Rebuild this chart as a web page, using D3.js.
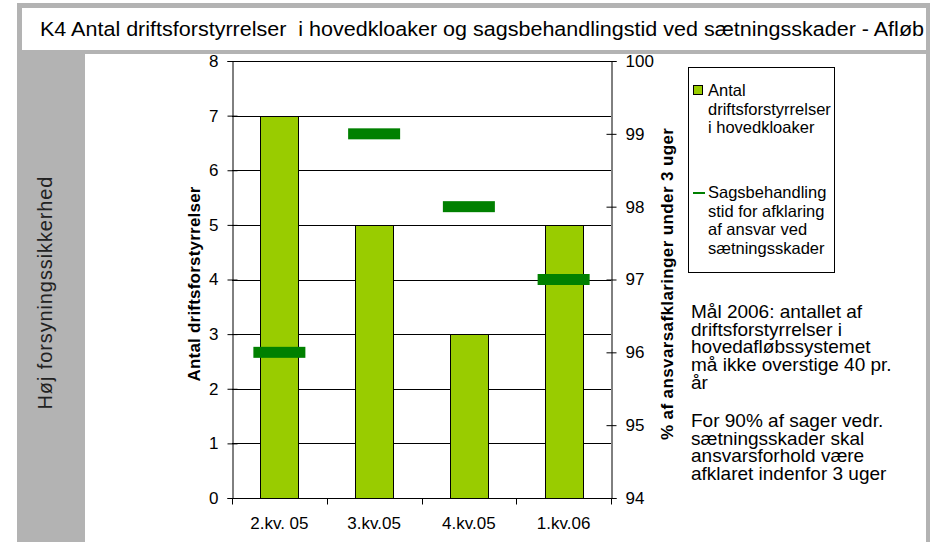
<!DOCTYPE html>
<html>
<head>
<meta charset="utf-8">
<script src="https://cdn.jsdelivr.net/npm/d3@7"></script>
<style>
  body { margin: 0; background: #fff; }
  svg { display: block; font-family: "Liberation Sans", Arial, sans-serif; }
  .tick text { font-size: 17px; fill: #000; font-family: "Liberation Sans", Arial, sans-serif; }
</style>
</head>
<body>
<div id="chart"></div>
<script>
var categories = ["2.kv. 05", "3.kv.05", "4.kv.05", "1.kv.06"];
var driftsforstyrrelser = [7, 5, 3, 5];
var sagsbehandling = [96, 99, 98, 97];
var leftTicks = [0, 1, 2, 3, 4, 5, 6, 7, 8];
var rightTicks = [94, 95, 96, 97, 98, 99, 100];

var titleText = "K4 Antal driftsforstyrrelser  i hovedkloaker og sagsbehandlingstid ved sætningsskader - Afløb";
var sideText = "Høj forsyningssikkerhed";
var legendBar = ["Antal", "driftsforstyrrelser", "i hovedkloaker"];
var legendLine = ["Sagsbehandling", "stid for afklaring", "af ansvar ved", "sætningsskader"];
var note1 = ["Mål 2006: antallet af", "driftsforstyrrelser i", "hovedafløbssystemet", "må ikke overstige 40 pr.", "år"];
var note2 = ["For 90% af sager vedr.", "sætningsskader skal", "ansvarsforhold være", "afklaret indenfor 3 uger"];

var W = 930, H = 542;
var plot = {left: 232, right: 611, top: 61, bottom: 498};

var svg = d3.select("#chart").append("svg")
    .attr("width", W)
    .attr("height", H);

// frame
svg.append("rect").attr("x", 17).attr("y", 3).attr("width", W - 17).attr("height", H - 3).attr("fill", "#b3b3b3");
svg.append("rect").attr("x", 22).attr("y", 8).attr("width", 904).attr("height", 42).attr("fill", "#fff");
svg.append("rect").attr("x", 85).attr("y", 54).attr("width", 841).attr("height", H - 54).attr("fill", "#fff");

svg.append("text")
    .attr("x", 40).attr("y", 36)
    .attr("font-size", 20.5)
    .attr("textLength", 884)
    .attr("lengthAdjust", "spacingAndGlyphs")
    .style("white-space", "pre")
    .text(titleText);

svg.append("text")
    .attr("transform", "translate(52,293) rotate(-90)")
    .attr("text-anchor", "middle")
    .attr("font-size", 20)
    .attr("textLength", 233)
    .attr("fill", "#222")
    .text(sideText);

var xScale = d3.scaleBand()
    .domain(categories)
    .range([plot.left, plot.right])
    .paddingInner(0.6)
    .paddingOuter(0.3);

var yLeft = d3.scaleLinear().domain([0, 8]).range([plot.bottom, plot.top]);
var yRight = d3.scaleLinear().domain([94, 100]).range([plot.bottom, plot.top]);

// gridlines
svg.append("g").selectAll("line")
    .data(leftTicks.slice(1))
    .enter().append("line")
    .attr("x1", plot.left).attr("x2", plot.right)
    .attr("y1", function(d) { return Math.round(yLeft(d)) + 0.5; })
    .attr("y2", function(d) { return Math.round(yLeft(d)) + 0.5; })
    .attr("stroke", "#000");

// bars
svg.append("g").selectAll("rect")
    .data(driftsforstyrrelser)
    .enter().append("rect")
    .attr("x", function(d, i) { return Math.round(xScale(categories[i])) + 0.5; })
    .attr("y", function(d) { return Math.round(yLeft(d)) + 0.5; })
    .attr("width", Math.round(xScale.bandwidth()))
    .attr("height", function(d) { return Math.round(yLeft(0)) - Math.round(yLeft(d)); })
    .attr("fill", "#99cc00")
    .attr("stroke", "#000");

// dash markers
var dashW = 52, dashH = 11;
svg.append("g").selectAll("rect")
    .data(sagsbehandling)
    .enter().append("rect")
    .attr("x", function(d, i) { return xScale(categories[i]) + xScale.bandwidth() / 2 - dashW / 2; })
    .attr("y", function(d) { return yRight(d) - dashH / 2; })
    .attr("width", dashW)
    .attr("height", dashH)
    .attr("fill", "#008000");

// axes
var leftAxis = d3.axisLeft(yLeft).tickValues(leftTicks).tickSize(5).tickPadding(9);
var gl = svg.append("g")
    .attr("transform", "translate(" + (plot.left + 0.5) + ",0)")
    .call(leftAxis);
gl.selectAll(".tick line").attr("x2", -5).attr("x1", 5);

var rightAxis = d3.axisRight(yRight).tickValues(rightTicks).tickFormat(d3.format("d")).tickSize(5).tickPadding(9);
var gr = svg.append("g")
    .attr("transform", "translate(" + (plot.right + 0.5) + ",0)")
    .call(rightAxis);
gr.selectAll(".tick line").attr("x1", -5).attr("x2", 5);

var xAxis = d3.axisBottom(xScale).tickSize(0);
var gx = svg.append("g")
    .attr("transform", "translate(0," + (plot.bottom + 0.5) + ")")
    .call(xAxis);
gx.select(".domain").attr("d", "M" + plot.left + ",0H" + plot.right);
gx.selectAll(".tick text").attr("y", 30).attr("dy", null);
gx.selectAll(".sep")
    .data(d3.range(categories.length + 1))
    .enter().append("line")
    .attr("x1", function(i) { return Math.round(plot.left + i * xScale.step()) + 0.5; })
    .attr("x2", function(i) { return Math.round(plot.left + i * xScale.step()) + 0.5; })
    .attr("y1", 0).attr("y2", 6)
    .attr("stroke", "#000");

svg.selectAll(".domain").attr("stroke", "#000");
svg.selectAll(".tick line").attr("stroke", "#000");

// axis titles
svg.append("text")
    .attr("transform", "translate(200,284) rotate(-90)")
    .attr("text-anchor", "middle")
    .attr("font-size", 17)
    .attr("font-weight", "bold")
    .attr("textLength", 195)
    .text("Antal driftsforstyrrelser");

svg.append("text")
    .attr("transform", "translate(673,284) rotate(-90)")
    .attr("text-anchor", "middle")
    .attr("font-size", 17)
    .attr("font-weight", "bold")
    .attr("textLength", 312)
    .text("% af ansvarsafklaringer under 3 uger");

// legend
var legend = svg.append("g");
legend.append("rect")
    .attr("x", 688.5).attr("y", 67.5).attr("width", 146).attr("height", 205)
    .attr("fill", "#fff").attr("stroke", "#000");
legend.append("rect")
    .attr("x", 693.5).attr("y", 85.5).attr("width", 9).attr("height", 9)
    .attr("fill", "#99cc00").attr("stroke", "#000");
legend.append("line")
    .attr("x1", 693).attr("x2", 705).attr("y1", 193).attr("y2", 193)
    .attr("stroke", "#008000").attr("stroke-width", 2);

function block(lines, x, y, size, lh) {
    var t = svg.append("text").attr("font-size", size);
    t.selectAll("tspan")
        .data(lines).enter().append("tspan")
        .attr("x", x)
        .attr("y", function(d, i) { return y + i * lh; })
        .text(function(d) { return d; });
}

block(legendBar, 708, 96, 16.5, 18.5);
block(legendLine, 708, 198, 16.5, 18.6);

// notes
block(note1, 691, 318, 19, 17.7);
block(note2, 691, 427, 19, 17.5);
</script>
</body>
</html>
